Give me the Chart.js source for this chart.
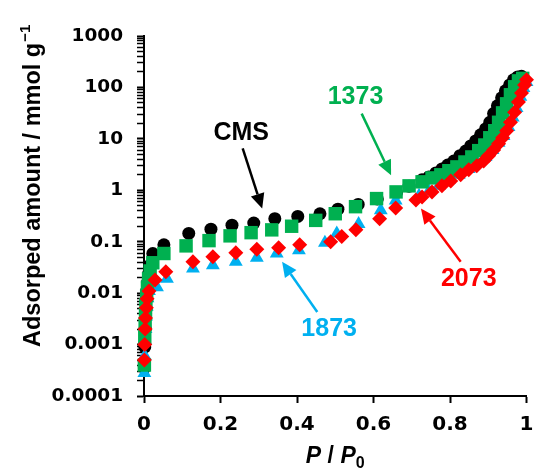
<!DOCTYPE html>
<html>
<head>
<title>Adsorption isotherms</title>
<style> body { margin:0; background:#fff; } canvas { display:block; } </style>
<script src="https://cdn.jsdelivr.net/npm/chart.js@4.4.0/dist/chart.umd.min.js"></script>
</head>
<body>
<canvas id="isoChart" width="536" height="473"></canvas>
<script>
// values (P/P0 and adsorbed amount, mmol/g)
const cmsP = [0.001,0.002,0.003,0.004,0.005,0.007,0.009,0.012,0.016,0.023,0.052,0.117,0.175,0.23,0.287,0.342,0.402,0.46,0.507,0.56,0.61,0.66,0.693,0.727,0.745,0.763,0.779,0.794,0.81,0.826,0.841,0.854,0.867,0.88,0.893,0.904,0.914,0.924,0.935,0.945,0.956,0.966,0.977,0.987];
const cmsV = [0.00035,0.0009,0.002,0.004,0.007,0.011,0.016,0.024,0.035,0.059,0.087,0.145,0.175,0.21,0.23,0.28,0.31,0.35,0.43,0.53,0.68,0.9,1.2,1.6,1.82,2.18,2.6,3.1,3.7,4.7,5.8,7.3,9.1,12,15.6,21,31,44,63,86,112,141,160,165];

const s1373P = [0.001,0.002,0.003,0.004,0.005,0.007,0.009,0.012,0.016,0.023,0.052,0.11,0.17,0.225,0.28,0.334,0.386,0.449,0.5,0.553,0.608,0.659,0.693,0.727,0.753,0.776,0.797,0.818,0.839,0.857,0.875,0.891,0.904,0.917,0.927,0.9375,0.948,0.958,0.969,0.979,0.99];
const s1373V = [0.0004,0.0014,0.0025,0.004,0.006,0.009,0.013,0.019,0.027,0.039,0.059,0.083,0.105,0.13,0.15,0.17,0.2,0.26,0.35,0.48,0.69,0.93,1.22,1.46,1.74,2.0,2.4,2.85,3.55,4.45,5.9,7.6,10.5,14.4,21,32,48,72,103,134,150];

const s2073P = [0.001,0.002,0.003,0.004,0.006,0.008,0.013,0.029,0.057,0.128,0.18,0.24,0.295,0.352,0.407,0.488,0.517,0.554,0.616,0.658,0.711,0.727,0.753,0.779,0.802,0.828,0.849,0.87,0.888,0.901,0.914,0.927,0.9375,0.948,0.958,0.969,0.979,0.987,0.995,1.0];
const s2073V = [0.0005,0.001,0.002,0.0033,0.0052,0.0078,0.011,0.018,0.026,0.041,0.051,0.061,0.071,0.076,0.087,0.1,0.126,0.17,0.28,0.45,0.65,0.74,0.93,1.22,1.52,2.0,2.5,3.0,3.7,4.7,6.1,8.0,10.5,14.4,21,33,52,78,112,141];

const s1873P = [0.001,0.002,0.003,0.004,0.005,0.007,0.009,0.013,0.034,0.06,0.128,0.18,0.24,0.295,0.347,0.405,0.473,0.504,0.561,0.619,0.658,0.719,0.745,0.771,0.797,0.823,0.849,0.872,0.893,0.911,0.927,0.94,0.953,0.964,0.974,0.984,0.992,1.0];
const s1873V = [0.00028,0.0006,0.0012,0.002,0.0035,0.0055,0.008,0.011,0.013,0.019,0.030,0.035,0.041,0.049,0.059,0.068,0.095,0.145,0.22,0.41,0.63,0.78,0.97,1.22,1.58,2.0,2.6,3.4,4.45,6.1,8.4,11.4,17,26,40,66,98,128];

const xTickLabels = ['0','0.2','0.4','0.6','0.8','1'];
const yTickLabels = ['0.0001','0.001','0.01','0.1','1','10','100','1000'];
const yTickValues = [0.0001,0.001,0.01,0.1,1,10,100,1000];

function pts(px, py) { return px.map((p, i) => ({x: p, y: py[i]})); }

// tick marks: decades plus 2..9 minor marks
let yTicks = [];
for (let d = 0; d < yTickValues.length; d++) {
  yTicks.push({value: yTickValues[d], major: true});
  if (d < yTickValues.length - 1)
    for (let m = 2; m <= 9; m++) yTicks.push({value: m * yTickValues[d], major: false});
}

const ARIAL = '"Liberation Sans", Arial, sans-serif';

// labels with arrows, positions in data units
const notes = [
  {text:'CMS',  color:'#000000', at:[0.254,12.8], from:[0.258,6.5],    to:[0.309,0.44]},
  {text:'1373', color:'#00b050', at:[0.553,64],   from:[0.569,31],     to:[0.646,1.95]},
  {text:'2073', color:'#ff0000', at:[0.849,0.019],from:[0.828,0.041],  to:[0.724,0.44]},
  {text:'1873', color:'#00b0f0', at:[0.484,0.002],from:[0.453,0.0043], to:[0.361,0.041]}
];

const decor = {
  id: 'decor',
  afterDatasetsDraw(chart) {
    const ctx = chart.ctx, xs = chart.scales.x, ys = chart.scales.y;
    ctx.save();
    notes.forEach(n => {
      const tx = xs.getPixelForValue(n.at[0]), ty = ys.getPixelForValue(n.at[1]);
      ctx.fillStyle = n.color;
      ctx.strokeStyle = n.color;
      ctx.font = 'bold 25px ' + ARIAL;
      ctx.textAlign = 'center';
      ctx.textBaseline = 'middle';
      ctx.fillText(n.text, tx, ty);
      const x1 = xs.getPixelForValue(n.from[0]), y1 = ys.getPixelForValue(n.from[1]);
      const x2 = xs.getPixelForValue(n.to[0]), y2 = ys.getPixelForValue(n.to[1]);
      const a = Math.atan2(y2 - y1, x2 - x1), hl = 15, hw = 7;
      const bx = x2 - hl * Math.cos(a), by = y2 - hl * Math.sin(a);
      ctx.lineWidth = 2.5;
      ctx.beginPath(); ctx.moveTo(x1, y1); ctx.lineTo(bx, by); ctx.stroke();
      ctx.beginPath();
      ctx.moveTo(x2, y2);
      ctx.lineTo(bx + hw * Math.sin(a), by - hw * Math.cos(a));
      ctx.lineTo(bx - hw * Math.sin(a), by + hw * Math.cos(a));
      ctx.closePath(); ctx.fill();
    });
    ctx.restore();
  },
  afterDraw(chart) {
    const ctx = chart.ctx, area = chart.chartArea;
    ctx.save();
    ctx.fillStyle = '#000';
    // y title, rotated, with superscript -1
    ctx.translate(40, 347);
    ctx.rotate(-Math.PI / 2);
    ctx.font = 'bold 23.5px ' + ARIAL;
    ctx.textAlign = 'left';
    ctx.textBaseline = 'alphabetic';
    const ytitle = 'Adsorped amount / mmol g';
    ctx.fillText(ytitle, 0, 0);
    const w = ctx.measureText(ytitle).width;
    ctx.font = 'bold 15px ' + ARIAL;
    ctx.fillText('\u2212' + '1', w + 1, -10);
    ctx.restore();

    // x title  P / P0
    ctx.save();
    ctx.fillStyle = '#000';
    ctx.textBaseline = 'alphabetic';
    ctx.textAlign = 'left';
    const parts = [
      {t:'P', f:'italic bold 23px ' + ARIAL, dy:0},
      {t:' / ', f:'bold 23px ' + ARIAL, dy:0},
      {t:'P', f:'italic bold 23px ' + ARIAL, dy:0},
      {t:'0', f:'bold 16px ' + ARIAL, dy:5}
    ];
    let total = 0;
    parts.forEach(p => { ctx.font = p.f; p.w = ctx.measureText(p.t).width; total += p.w; });
    let x = (area.left + area.right) / 2 - total / 2;
    parts.forEach(p => { ctx.font = p.f; ctx.fillText(p.t, x, 463 + p.dy); x += p.w; });
    ctx.restore();
  }
};

const ctx = document.getElementById('isoChart').getContext('2d');
const isoChart = new Chart(ctx, {
  type: 'scatter',
  data: {
    datasets: [
      {label:'2073', data: pts(s2073P, s2073V), pointStyle:'rectRot', pointRadius:7.5, backgroundColor:'#ff0000', borderColor:'#ff0000', borderWidth:0, order:0, clip:false},
      {label:'1373', data: pts(s1373P, s1373V), pointStyle:'rect', pointRadius:9.5, backgroundColor:'#00b050', borderColor:'#00b050', borderWidth:0, order:1, clip:false},
      {label:'1873', data: pts(s1873P, s1873V), pointStyle:'triangle', pointRadius:8, backgroundColor:'#00b0f0', borderColor:'#00b0f0', borderWidth:0, order:2, clip:false},
      {label:'CMS',  data: pts(cmsP, cmsV), pointStyle:'circle', pointRadius:6.5, backgroundColor:'#000000', borderColor:'#000000', borderWidth:0, order:3, clip:false}
    ]
  },
  options: {
    responsive: false,
    animation: false,
    events: [],
    layout: { padding: {top:36, right:8, left:0, bottom:0} },
    plugins: { legend: {display:false}, tooltip: {enabled:false} },
    scales: {
      x: {
        type: 'linear', min: 0, max: 1,
        afterFit: s => { s.height = 77; s.paddingLeft = 0; s.paddingRight = 0; },
        ticks: { stepSize: 0.2, padding: 10, color:'#000',
          font: {family:'DejaVu Sans', weight:'bold', size:20},
          callback: (v, i) => xTickLabels[i] },
        grid: { drawOnChartArea:false, tickLength:7, tickWidth:2, tickColor:'#000' },
        border: { color:'#000', width:2 }
      },
      y: {
        type: 'logarithmic', min: 0.0001, max: 1000,
        afterFit: s => { s.width = 144; s.paddingTop = 0; s.paddingBottom = 0; },
        afterBuildTicks: s => { s.ticks = yTicks.map(t => ({value:t.value, major:t.major})); },
        ticks: { autoSkip:false, padding: 14, color:'#000',
          font: {family:'DejaVu Sans', weight:'bold', size:18.5},
          callback: v => {
            const k = yTickValues.findIndex(d => Math.abs(d - v) / d < 1e-6);
            return k >= 0 ? yTickLabels[k] : '';
          } },
        grid: { drawOnChartArea:false, tickLength:7, tickColor:'#000',
          tickWidth: c => (c.tick && c.tick.major) ? 2 : 1.5 },
        border: { color:'#000', width:2 }
      }
    }
  },
  plugins: [decor]
});
</script>
</body>
</html>
